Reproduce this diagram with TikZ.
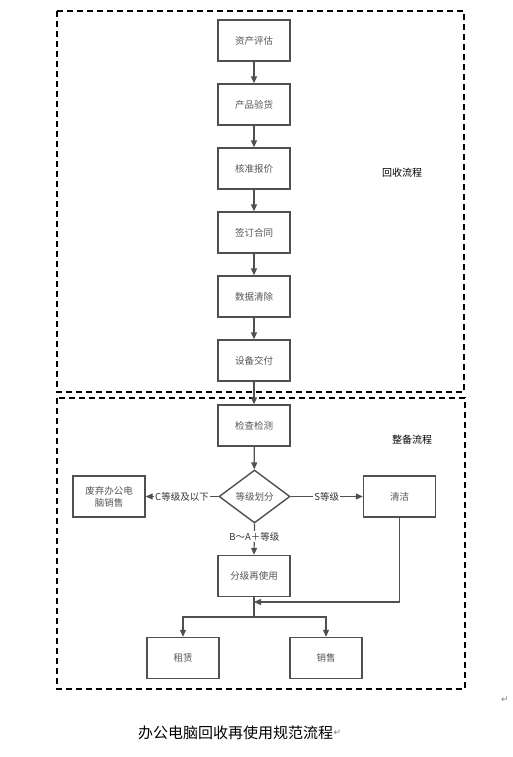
\documentclass[tikz,border=0pt]{standalone}
\usepackage{fontspec}
\setmainfont{Noto Sans CJK SC}
\newfontfamily\symfont{DejaVu Sans}
\usetikzlibrary{arrows.meta,shapes.geometric}
\definecolor{boxline}{HTML}{505050}
\definecolor{boxtext}{HTML}{555555}
\begin{document}
\begin{tikzpicture}[x=1pt,y=-1pt,
  stepbox/.style={draw=boxline,line width=1.4pt,minimum width=72pt,minimum height=41pt,inner sep=0pt,font=\fontsize{9.5}{12}\selectfont,text=boxtext,align=center},
  decide/.style={draw=boxline,line width=1.4pt,shape=diamond,aspect=1.34,inner sep=0pt,minimum width=71pt,minimum height=53pt,font=\fontsize{9.5}{12}\selectfont,text=boxtext},
  flow/.style={draw=boxline,line width=1.2pt,-{Triangle[length=7pt,width=6pt]}},
  plain/.style={draw=boxline,line width=1.2pt},
  region/.style={draw=black,line width=1.4pt,dash pattern=on 6pt off 4pt},
  lab/.style={font=\fontsize{9.5}{12}\selectfont,text=black!80,fill=white,inner sep=1pt},
  retmark/.style={font=\symfont\fontsize{9}{11}\selectfont,text=gray}
]
\useasboundingbox (0,0) rectangle (513,757);
\fill[white] (0,0) rectangle (513,757);
% regions
\draw[region] (57,11) rectangle (464,392);
\draw[region] (57,398) rectangle (465,689);
\node[font=\fontsize{10}{12}\selectfont] (lbl1) at (402,173) {回收流程};
\node[font=\fontsize{10}{12}\selectfont] (lbl2) at (412,440) {整备流程};
% recovery steps
\node[stepbox] (s1) at (254,40.5) {资产评估};
\node[stepbox] (s2) at (254,104.5) {产品验货};
\node[stepbox] (s3) at (254,168.5) {核准报价};
\node[stepbox] (s4) at (254,232.5) {签订合同};
\node[stepbox] (s5) at (254,296.5) {数据清除};
\node[stepbox] (s6) at (254,360.5) {设备交付};
% refurbishment
\node[stepbox] (r1) at (254,425.5) {检查检测};
\node[decide] (d) at (254.5,496.5) {等级划分};
\node[stepbox] (waste) at (109,496.5) {废弃办公电\\脑销售};
\node[stepbox] (clean) at (399.5,496.5) {清洁};
\node[stepbox] (reuse) at (254,576) {分级再使用};
\node[stepbox] (rent) at (183,658) {租赁};
\node[stepbox] (sell) at (326,658) {销售};
% connectors
\draw[flow] (s1) -- (s2);
\draw[flow] (s2) -- (s3);
\draw[flow] (s3) -- (s4);
\draw[flow] (s4) -- (s5);
\draw[flow] (s5) -- (s6);
\draw[flow] (s6) -- (r1);
\draw[flow] (r1) -- (d);
\draw[flow] (d.west) -- node[lab,pos=0.5] (lc) {C等级及以下} (waste.east);
\draw[flow] (d.east) -- node[lab,pos=0.5] (ls) {S等级} (clean.west);
\draw[flow] (d.south) -- node[lab,pos=0.42] (lb) {B～A＋等级} (reuse.north);
\coordinate (cj) at (254,602);
\coordinate (br) at (254,617);
\draw[flow] (clean.south) |- (cj);
\draw[plain] (reuse.south) -- (br);
\draw[flow] (br) -| (rent.north);
\draw[flow] (br) -| (sell.north);
% caption
\node[font=\fontsize{15}{17}\selectfont,anchor=west,inner sep=0pt] (cap) at (138,733) {办公电脑回收再使用规范流程};
\node[retmark,anchor=west,inner sep=0pt] (rm1) at (cap.east) {↵};
\node[retmark] (rm2) at (505,700) {↵};
\end{tikzpicture}
\end{document}
